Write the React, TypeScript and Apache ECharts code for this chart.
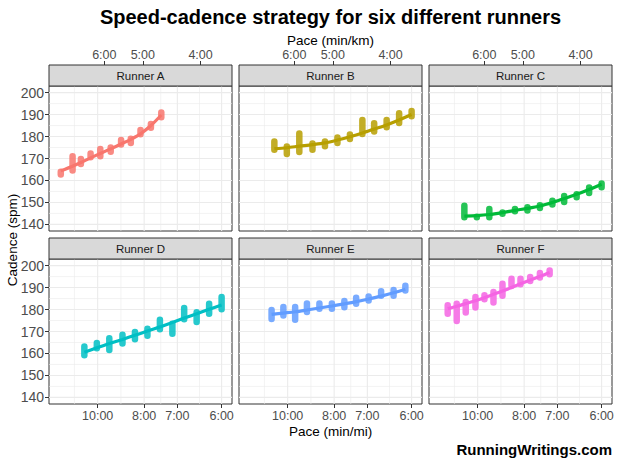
import React, { useEffect, useRef } from "react";
import * as echarts from "echarts";

const runnerNames = ["Runner A", "Runner B", "Runner C", "Runner D", "Runner E", "Runner F"];
const runnerColors = ["#F8766D", "#B79F00", "#00BA38", "#00BFC4", "#619CFF", "#F564E3"];

// speeds in m/s, cadence in steps per minute
const speedA = [2.15, 2.32, 2.44, 2.58, 2.72, 2.87, 3.02, 3.16, 3.3, 3.45, 3.6];
const lowA = [161.7, 163.5, 166.5, 169.5, 170, 172, 175.3, 176, 180, 183, 187.7];
const highA = [165, 172, 170.8, 173.3, 175.3, 176, 179.5, 180, 184, 186.7, 192];
const fitA = [164.4, 166.5, 168.2, 170.3, 172.3, 174.4, 176.6, 178.7, 181.2, 185.0, 189.8];

const speedB = [2.49, 2.67, 2.85, 3.04, 3.22, 3.4, 3.58, 3.76, 3.93, 4.11, 4.29, 4.47];
const lowB = [173, 171, 171.9, 173, 174.5, 176, 177.8, 180.1, 181.3, 183.2, 185.1, 188.2];
const highB = [178.8, 176.5, 182.4, 177.8, 178.8, 180.6, 182, 188.6, 187.1, 188.6, 191.6, 192.7];
const fitB = [174.5, 174.9, 175.6, 176.3, 177.1, 178.4, 179.9, 181.6, 183.4, 185.3, 187.5, 190.0];

const speedC = [2.49, 2.67, 2.85, 3.04, 3.22, 3.4, 3.58, 3.76, 3.93, 4.11, 4.29, 4.47];
const lowC = [142.2, 142.2, 142.2, 143.8, 145, 145.3, 146.5, 148, 149.2, 151.3, 153.3, 155.9];
const highC = [149.5, 144.5, 148, 146.5, 148, 148.8, 149.8, 151.8, 154, 154.8, 157.8, 159.7];
const fitC = [143.8, 144.0, 144.5, 145.4, 146.4, 147.3, 148.4, 150.0, 151.8, 153.7, 155.9, 158.3];

const speedD = [2.49, 2.67, 2.85, 3.04, 3.22, 3.4, 3.58, 3.76, 3.93, 4.11, 4.29, 4.47];
const lowD = [158.2, 161.4, 160.5, 163.5, 165.5, 167, 170, 168, 174.5, 173.3, 177.1, 179.1];
const highD = [164.2, 165.8, 168, 169.5, 170.8, 172.3, 176.4, 174.5, 181.7, 179.8, 183.6, 186.7];
const fitD = [160.6, 162.6, 164.5, 166.4, 168.3, 170.2, 172.1, 174.1, 176.1, 178.1, 180.1, 182.1];

const speedE = [2.45, 2.62, 2.79, 2.96, 3.14, 3.32, 3.5, 3.67, 3.85, 4.03, 4.21, 4.38];
const lowE = [174.7, 176.3, 174.3, 177.8, 179.3, 179.3, 180, 181.6, 183.1, 185.3, 185.3, 187.6];
const highE = [180.8, 182.2, 182.2, 183.8, 183.8, 183.8, 184.9, 186.4, 186.9, 189.4, 189.9, 191.9];
const fitE = [177.8, 178.4, 179.0, 179.8, 180.7, 181.6, 182.6, 183.6, 184.8, 186.1, 187.6, 189.2];

const speedF = [2.25, 2.38, 2.51, 2.65, 2.78, 2.91, 3.04, 3.17, 3.3, 3.44, 3.58, 3.72];
const lowF = [177, 173.8, 177.6, 179.9, 183.7, 182.2, 185.2, 189.7, 190.5, 192, 193.5, 195];
const highF = [183, 183.7, 184.4, 186.7, 187.5, 189, 192.8, 195, 195, 195.8, 197.6, 198.8];
const fitF = [180.4, 181.5, 182.7, 184.0, 185.4, 186.9, 188.4, 190.0, 191.7, 193.4, 195.1, 196.9];

const topPaceLabels = ["6:00", "5:00", "4:00"]; // min/km
const bottomPaceLabels = ["10:00", "8:00", "7:00", "6:00"]; // min/mi
const cadenceTicks = [140, 150, 160, 170, 180, 190, 200];
const cadenceMinor = [145, 155, 165, 175, 185, 195];

const X_MIN = 1.98;
const X_MAX = 4.62;
const Y_MIN = 137;
const Y_MAX = 203;

const FONT = "'Liberation Sans', Arial, sans-serif";

function paceSeconds(p: string) {
  const [m, s] = p.split(":").map(Number);
  return m * 60 + s;
}
const topTickSpeeds = topPaceLabels.map((p) => 1000 / paceSeconds(p));
const bottomTickSpeeds = bottomPaceLabels.map((p) => 1609.344 / paceSeconds(p));
const bottomMinor: number[] = [];
bottomMinor.push(bottomTickSpeeds[0] - (bottomTickSpeeds[1] - bottomTickSpeeds[0]) / 2);
for (let i = 0; i < bottomTickSpeeds.length - 1; i++) {
  bottomMinor.push((bottomTickSpeeds[i] + bottomTickSpeeds[i + 1]) / 2);
}

function labelFor(values: number[], labels: string[]) {
  return (v: number) => {
    for (let i = 0; i < values.length; i++) {
      if (Math.abs(values[i] - v) < 0.005) return labels[i];
    }
    return "";
  };
}

const runnersData = [
  { s: speedA, lo: lowA, hi: highA, fit: fitA },
  { s: speedB, lo: lowB, hi: highB, fit: fitB },
  { s: speedC, lo: lowC, hi: highC, fit: fitC },
  { s: speedD, lo: lowD, hi: highD, fit: fitD },
  { s: speedE, lo: lowE, hi: highE, fit: fitE },
  { s: speedF, lo: lowF, hi: highF, fit: fitF },
];

const colLeft = [49, 239, 429];
const rowTop = [86, 259];
const PW = 183;
const PH = 145;
const STRIP = 21;

function buildOption() {
  const grids: any[] = [];
  const xAxes: any[] = [];
  const yAxes: any[] = [];
  const series: any[] = [];
  const graphics: any[] = [];

  const gridLineData: any[] = [];
  bottomTickSpeeds.forEach((v) => gridLineData.push([v, 170, 0, 1]));
  bottomMinor.forEach((v) => gridLineData.push([v, 170, 0, 0]));
  cadenceTicks.forEach((v) => gridLineData.push([3.3, v, 1, 1]));
  cadenceMinor.forEach((v) => gridLineData.push([3.3, v, 1, 0]));

  for (let i = 0; i < 6; i++) {
    const row = Math.floor(i / 3);
    const col = i % 3;
    const left = colLeft[col];
    const top = rowTop[row];
    grids.push({
      left,
      top,
      width: PW,
      height: PH,
      show: true,
      backgroundColor: "#ffffff",
      borderColor: "#333333",
      borderWidth: 1,
    });
    xAxes.push({
      type: "value",
      gridIndex: i,
      position: "bottom",
      min: X_MIN,
      max: X_MAX,
      axisLine: { show: false },
      splitLine: { show: false },
      axisTick: {
        show: row === 1,
        customValues: bottomTickSpeeds,
        length: 4,
        lineStyle: { color: "#333333", width: 1 },
      },
      axisLabel: {
        show: row === 1,
        customValues: bottomTickSpeeds,
        formatter: labelFor(bottomTickSpeeds, bottomPaceLabels),
        color: "#4D4D4D",
        fontSize: 12.5,
        fontFamily: FONT,
        margin: 5,
      },
    });
    yAxes.push({
      type: "value",
      gridIndex: i,
      min: Y_MIN,
      max: Y_MAX,
      axisLine: { show: false },
      splitLine: { show: false },
      axisTick: {
        show: col === 0,
        customValues: cadenceTicks,
        length: 4,
        lineStyle: { color: "#333333", width: 1 },
      },
      axisLabel: {
        show: col === 0,
        customValues: cadenceTicks,
        color: "#4D4D4D",
        fontSize: 14,
        fontFamily: FONT,
        margin: 5,
      },
    });

    const color = runnerColors[i];
    const d = runnersData[i];

    series.push({
      type: "custom",
      xAxisIndex: i,
      yAxisIndex: i,
      z: 1,
      silent: true,
      encode: { x: 0, y: 1 },
      data: gridLineData,
      renderItem: (params: any, api: any) => {
        const cs = params.coordSys;
        const kind = api.value(2);
        const major = api.value(3);
        const style = { stroke: "#EBEBEB", lineWidth: major ? 1.1 : 0.6 };
        if (kind === 0) {
          const x = api.coord([api.value(0), Y_MIN])[0];
          return { type: "line", shape: { x1: x, y1: cs.y, x2: x, y2: cs.y + cs.height }, style };
        }
        const y = api.coord([X_MIN, api.value(1)])[1];
        return { type: "line", shape: { x1: cs.x, y1: y, x2: cs.x + cs.width, y2: y }, style };
      },
    });

    series.push({
      type: "custom",
      xAxisIndex: i,
      yAxisIndex: i,
      z: 3,
      silent: true,
      encode: { x: 0, y: [1, 2] },
      data: d.s.map((s, j) => [s, d.lo[j], d.hi[j]]),
      renderItem: (params: any, api: any) => {
        const x = api.value(0);
        const pTop = api.coord([x, api.value(2)]);
        const pBot = api.coord([x, api.value(1)]);
        const w = 6.5;
        return {
          type: "rect",
          shape: { x: pTop[0] - w / 2, y: pTop[1] - 1, width: w, height: pBot[1] - pTop[1] + 2, r: w / 2 },
          style: { fill: color, opacity: 0.85 },
        };
      },
    });

    series.push({
      type: "line",
      xAxisIndex: i,
      yAxisIndex: i,
      z: 4,
      silent: true,
      smooth: 0.3,
      showSymbol: false,
      symbol: "none",
      lineStyle: { color, width: 3.2 },
      data: d.s.map((s, j) => [s, d.fit[j]]),
    });

    // strip
    graphics.push({
      type: "rect",
      shape: { x: left, y: top - STRIP, width: PW, height: STRIP },
      style: { fill: "#D9D9D9", stroke: "#333333", lineWidth: 1 },
      z: 10,
    });
    graphics.push({
      type: "text",
      x: left + PW / 2,
      y: top - STRIP / 2,
      style: {
        text: runnerNames[i],
        fill: "#1A1A1A",
        font: `11.5px ${FONT}`,
        align: "center",
        verticalAlign: "middle",
      },
      z: 11,
    });
  }

  for (let c = 0; c < 3; c++) {
    xAxes.push({
      type: "value",
      gridIndex: c,
      position: "top",
      offset: STRIP,
      min: X_MIN,
      max: X_MAX,
      axisLine: { show: false },
      splitLine: { show: false },
      axisTick: {
        show: true,
        customValues: topTickSpeeds,
        length: 4,
        lineStyle: { color: "#333333", width: 1 },
      },
      axisLabel: {
        show: true,
        customValues: topTickSpeeds,
        formatter: labelFor(topTickSpeeds, topPaceLabels),
        color: "#4D4D4D",
        fontSize: 12.5,
        fontFamily: FONT,
        margin: 4,
      },
    });
  }

  graphics.push({
    type: "text",
    x: 330.5,
    y: 17,
    style: {
      text: "Speed-cadence strategy for six different runners",
      fill: "#000000",
      font: `bold 20px ${FONT}`,
      align: "center",
      verticalAlign: "middle",
    },
  });
  graphics.push({
    type: "text",
    x: 330.5,
    y: 40,
    style: { text: "Pace (min/km)", fill: "#000000", font: `13.5px ${FONT}`, align: "center", verticalAlign: "middle" },
  });
  graphics.push({
    type: "text",
    x: 330.5,
    y: 431,
    style: { text: "Pace (min/mi)", fill: "#000000", font: `13.5px ${FONT}`, align: "center", verticalAlign: "middle" },
  });
  graphics.push({
    type: "text",
    x: 12,
    y: 240,
    rotation: Math.PI / 2,
    style: { text: "Cadence (spm)", fill: "#000000", font: `13.5px ${FONT}`, align: "center", verticalAlign: "middle" },
  });
  graphics.push({
    type: "text",
    x: 612,
    y: 449,
    style: {
      text: "RunningWritings.com",
      fill: "#000000",
      font: `bold 15px ${FONT}`,
      align: "right",
      verticalAlign: "middle",
    },
  });

  return {
    animation: false,
    backgroundColor: "#ffffff",
    textStyle: { fontFamily: FONT },
    grid: grids,
    xAxis: xAxes,
    yAxis: yAxes,
    series,
    graphic: graphics,
  };
}

export default function App() {
  const ref = useRef<HTMLDivElement>(null);
  useEffect(() => {
    if (!ref.current) return;
    const chart = echarts.init(ref.current, undefined, { renderer: "svg" });
    chart.setOption(buildOption() as any);
    return () => chart.dispose();
  }, []);
  return (
    <div
      ref={ref}
      style={{ position: "fixed", left: 0, top: 0, width: 620, height: 465, background: "#fff" }}
    />
  );
}
